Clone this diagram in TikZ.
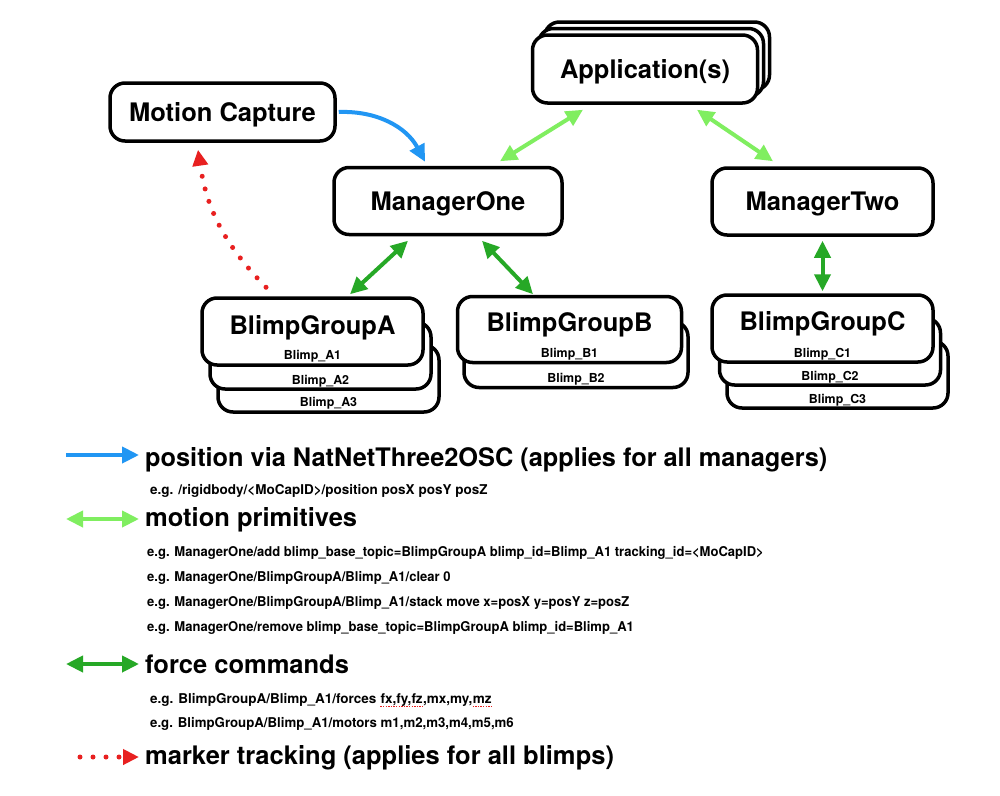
\documentclass[tikz,border=0pt]{standalone}
\usepackage{fontspec}
\setmainfont{TeX Gyre Heros}
\usetikzlibrary{arrows.meta,calc}
\definecolor{cblue}{RGB}{33,150,243}
\definecolor{clgreen}{RGB}{128,238,96}
\definecolor{cdgreen}{RGB}{38,168,38}
\definecolor{cred}{RGB}{232,32,32}
\newcommand\ttlfont{\fontsize{25.5}{30}\selectfont\bfseries}
\newcommand\subfont{\fontsize{12.4}{14}\selectfont\bfseries}
\newcommand\exfont{\fontsize{13.5}{16}\selectfont\bfseries}
\newcommand\narrowtxt[1]{\scalebox{0.965}[1]{#1}}
\begin{document}
\begin{tikzpicture}[x=1pt,y=-1pt,
  rbox/.style={draw=black, line width=3.5pt, rounded corners=15pt, fill=white,
    minimum width=#1, minimum height=67pt, inner sep=0pt, font=\ttlfont,
    text height=18.4pt, text depth=0pt},
  ttl/.style={font=\ttlfont, inner sep=0pt, anchor=base},
  sub/.style={font=\subfont, inner sep=0pt, anchor=base},
  ex/.style={font=\exfont, inner sep=0pt, anchor=base west},
  lgd/.style={font=\ttlfont, inner sep=0pt, anchor=base west},
  arr/.style={line width=4pt},
  tipb/.tip={Triangle[length=17pt,width=16pt]},
  dotline/.style={cred, line width=5pt, dash pattern=on 0pt off 13pt, line cap=round},
  squig/.style={cred, line width=1.2pt, dash pattern=on 1.3pt off 1.3pt}
]
\useasboundingbox (0,0) rectangle (1000,795);
\fill[white] (0,0) rectangle (1000,795);

% Application(s) stack
\node[rbox=225pt, minimum height=68pt] (app3) at (657,56) {};
\node[rbox=225pt, minimum height=68pt] (app2) at (651,62.5) {};
\node[rbox=225pt, minimum height=68pt] (app) at (645,69) {Application(s)};

% Motion Capture
\node[rbox=225pt, minimum height=58pt] (mc) at (222.5,112) {Motion Capture};

% Managers
\node[rbox=228pt] (m1) at (448,201) {ManagerOne};
\node[rbox=221pt] (m2) at (822.5,201.5) {ManagerTwo};

% BlimpGroupA
\node[rbox=221pt] (ga3) at (328.5,378.5) {};
\node[rbox=221pt] (ga2) at (320.5,355.5) {};
\node[rbox=221pt] (ga1) at (312.5,331.5) {};
\node[ttl] (gat) at ($(ga1.north)+(0,38)$) {BlimpGroupA};
\node[sub] (ga1l) at ($(ga1.south)+(0,-7.5)$) {Blimp\_A1};
\node[sub] (ga2l) at ($(ga2.south)+(0,-6.5)$) {Blimp\_A2};
\node[sub] (ga3l) at ($(ga3.south)+(0,-7.5)$) {Blimp\_A3};

% BlimpGroupB
\node[rbox=224pt, minimum height=66pt] (gb2) at (576,354.5) {};
\node[rbox=224pt, minimum height=66pt] (gb1) at (569.5,329.5) {};
\node[ttl] (gbt) at ($(gb1.north)+(0,37)$) {BlimpGroupB};
\node[sub] (gb1l) at ($(gb1.south)+(0,-6.5)$) {Blimp\_B1};
\node[sub] (gb2l) at ($(gb2.south)+(0,-6.5)$) {Blimp\_B2};

% BlimpGroupC
\node[rbox=221pt] (gc3) at (837.5,374.5) {};
\node[rbox=221pt] (gc2) at (830,351.5) {};
\node[rbox=221pt] (gc1) at (822.5,328.5) {};
\node[ttl] (gct) at ($(gc1.north)+(0,37)$) {BlimpGroupC};
\node[sub] (gc1l) at ($(gc1.south)+(0,-6.5)$) {Blimp\_C1};
\node[sub] (gc2l) at ($(gc2.south)+(0,-6.5)$) {Blimp\_C2};
\node[sub] (gc3l) at ($(gc3.south)+(0,-6.5)$) {Blimp\_C3};

% connectors
\draw[arr, cblue, -tipb] ([xshift=2pt]mc.east) to[bend left=32] ([xshift=-23pt,yshift=4pt]m1.north);
\draw[dotline, -{Triangle[length=16pt,width=15pt]}] ([xshift=-46.5pt,yshift=9pt]ga1.north) to[bend left=18] ([xshift=-24.5pt,yshift=-7pt]mc.south);
\draw[arr, clgreen, tipb-tipb] ([xshift=-62pt,yshift=-5pt]app.south) -- ([xshift=52pt,yshift=4.5pt]m1.north);
\draw[arr, clgreen, tipb-tipb] ([xshift=52pt,yshift=-5pt]app.south) -- ([xshift=-49.5pt,yshift=5pt]m2.north);
\draw[arr, cdgreen, tipb-tipb] ([xshift=-40pt,yshift=-4.5pt]m1.south) -- ([xshift=37.5pt,yshift=2pt]ga1.north);
\draw[arr, cdgreen, tipb-tipb] ([xshift=34pt,yshift=-4.5pt]m1.south) -- ([xshift=-36.5pt,yshift=0.5pt]gb1.north);
\draw[arr, cdgreen, tipb-tipb] ([yshift=-4pt]m2.south) -- ([yshift=2pt]gc1.north);

% legend
\coordinate (l1a) at (66,455); \coordinate (l1b) at (139,455);
\draw[arr, cblue, -tipb] (l1a) -- (l1b);
\node[lgd] (lt1) at (145,466) {\scalebox{0.993}[1]{position via NatNetThree2OSC (applies for all managers)}};
\node[ex] (le1) at (150,494) {e.g. /rigidbody/<MoCapID>/position posX posY posZ};

\coordinate (l2a) at (66,519); \coordinate (l2b) at (139,519);
\draw[arr, clgreen, tipb-tipb] (l2a) -- (l2b);
\node[lgd] (lt2) at (145,526) {motion primitives};
\node[ex] (le2) at (147,556) {\narrowtxt{e.g. ManagerOne/add blimp\_base\_topic=BlimpGroupA blimp\_id=Blimp\_A1 tracking\_id=<MoCapID>}};
\node[ex] (le3) at (147,581) {\narrowtxt{e.g. ManagerOne/BlimpGroupA/Blimp\_A1/clear 0}};
\node[ex] (le4) at (147,606) {\narrowtxt{e.g. ManagerOne/BlimpGroupA/Blimp\_A1/stack move x=posX y=posY z=posZ}};
\node[ex] (le5) at (147,631) {\narrowtxt{e.g. ManagerOne/remove blimp\_base\_topic=BlimpGroupA blimp\_id=Blimp\_A1}};

\coordinate (l3a) at (66,664); \coordinate (l3b) at (139,664);
\draw[arr, cdgreen, tipb-tipb] (l3a) -- (l3b);
\node[lgd] (lt3) at (145,673) {force commands};
\node[ex] (lf1) at (150,703) {e.g. BlimpGroupA/Blimp\_A1/forces};
\node[ex] (lf2) at ($(lf1.base east)+(3.75,0)$) {fx,fy,fz};
\node[ex] (lf3) at (lf2.base east) {,mx,my,};
\node[ex] (lf4) at (lf3.base east) {mz};
\draw[squig] ([yshift=-3.5pt]lf2.base west) -- ([yshift=-3.5pt]lf2.base east);
\draw[squig] ([yshift=-3.5pt]lf4.base west) -- ([yshift=-3.5pt]lf4.base east);
\node[ex] (lf5) at (150,727) {\scalebox{0.98}[1]{e.g. BlimpGroupA/Blimp\_A1/motors m1,m2,m3,m4,m5,m6}};

\coordinate (l4a) at (80,757); \coordinate (l4b) at (139,757);
\draw[dotline, -{Triangle[length=16pt,width=15pt]}] (l4a) -- (l4b);
\node[lgd] (lt4) at (145,764) {marker tracking (applies for all blimps)};
\end{tikzpicture}
\end{document}
